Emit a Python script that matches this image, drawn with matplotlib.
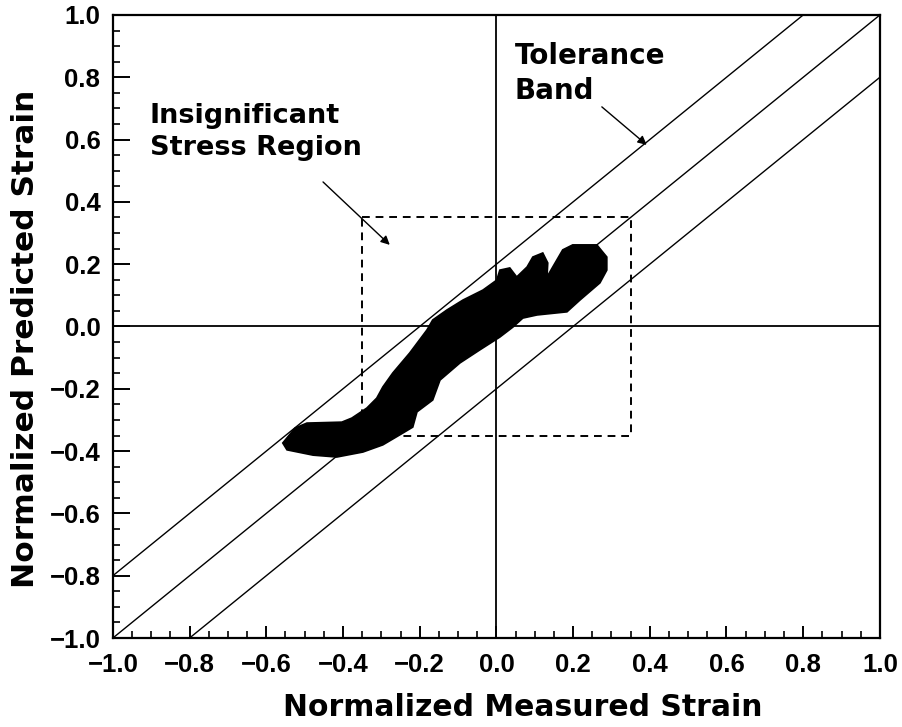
import matplotlib
matplotlib.use("Agg")
import matplotlib.pyplot as plt
import numpy as np

plt.rcParams["font.family"] = ["DejaVu Sans"]
plt.rcParams["font.weight"] = "bold"

# outline of the measured/predicted cloud (normalized strain)
blob_x = [-0.557, -0.525, -0.494, -0.403, -0.377, -0.338, -0.312, -0.296, -0.270,
          -0.226, -0.181, -0.166, -0.129, -0.087, -0.035, 0.001, 0.009, 0.035,
          0.053, 0.080, 0.095, 0.121, 0.134, 0.132, 0.147, 0.173, 0.199, 0.262,
          0.288, 0.288, 0.270, 0.218, 0.184, 0.106, 0.069, 0.043, 0.009, -0.043,
          -0.095, -0.147, -0.166, -0.207, -0.218, -0.252, -0.296, -0.348, -0.416,
          -0.478, -0.546]
blob_y = [-0.374, -0.326, -0.310, -0.307, -0.294, -0.262, -0.230, -0.194, -0.149,
          -0.085, -0.011, 0.021, 0.053, 0.085, 0.117, 0.149, 0.181, 0.188,
          0.159, 0.191, 0.223, 0.236, 0.204, 0.159, 0.191, 0.246, 0.262, 0.262,
          0.223, 0.181, 0.140, 0.085, 0.047, 0.037, 0.027, -0.002, -0.034, -0.075,
          -0.117, -0.172, -0.236, -0.274, -0.323, -0.348, -0.380, -0.403, -0.419,
          -0.413, -0.396]

tolerance = 0.2          # half-width of tolerance band
insignificant = 0.35     # half-width of insignificant stress box
limits = [-1.0, 1.0]
ticks = [-1.0, -0.8, -0.6, -0.4, -0.2, 0.0, 0.2, 0.4, 0.6, 0.8, 1.0]
tick_labels = ["\u22121.0", "\u22120.8", "\u22120.6", "\u22120.4", "\u22120.2",
               "0.0", "0.2", "0.4", "0.6", "0.8", "1.0"]

fig = plt.figure(figsize=(9.03, 7.27), dpi=100)
ax = fig.add_axes([0.125, 0.1224, 0.8494, 0.857])

# tolerance band: y = x and y = x +/- tol
xs = np.array(limits)
for off in (tolerance, 0.0, -tolerance):
    ax.plot(xs, xs + off, color="black", lw=1.0)

# zero axes
ax.axhline(0, color="black", lw=1.3)
ax.axvline(0, color="black", lw=1.3)

# insignificant stress region
b = insignificant
ax.plot([-b, b, b, -b, -b], [b, b, -b, -b, b], color="black", lw=1.4,
        ls=(0, (4, 3)))

ax.fill(blob_x, blob_y, color="black", lw=1.2, edgecolor="black")

arrow = dict(arrowstyle="-|>", color="black", lw=1.0, mutation_scale=13,
             shrinkA=0, shrinkB=0)
ax.annotate("", xy=(-0.278, 0.262), xytext=(-0.452, 0.464), arrowprops=arrow)
ax.annotate("", xy=(0.392, 0.583), xytext=(0.275, 0.705), arrowprops=arrow)
ax.text(-0.904, 0.716, "Insignificant\nStress Region", fontsize=19.5, ha="left",
        va="top", linespacing=1.3)
ax.text(0.048, 0.912, "Tolerance\nBand", fontsize=20, ha="left", va="top",
        linespacing=1.3)

ax.set_xlim(limits)
ax.set_ylim(limits)
ax.set_xticks(ticks)
ax.set_yticks(ticks)
ax.set_xticks(np.arange(-1.0, 1.001, 0.05), minor=True)
ax.set_yticks(np.arange(-1.0, 1.001, 0.05), minor=True)
tick_font = dict(family="Liberation Sans", weight="bold", size=18.5)
ax.set_xticklabels(tick_labels, fontdict=tick_font)
ax.set_yticklabels(tick_labels, fontdict=tick_font)
ax.tick_params(axis="x", which="major", direction="in", length=9, width=1.4, pad=11)
ax.tick_params(axis="y", which="major", direction="in", length=12, width=1.4, pad=9)
ax.tick_params(which="minor", direction="in", length=5, width=1.2)
for s in ax.spines.values():
    s.set_linewidth(1.6)

ax.set_xlabel("Normalized Measured Strain", fontsize=21.5, fontweight="bold")
ax.set_ylabel("Normalized Predicted Strain", fontsize=22.5, fontweight="bold")
ax.xaxis.set_label_coords(0.535, -0.088)
ax.yaxis.set_label_coords(-0.095, 0.48)

fig.savefig("out.png", dpi=100)
